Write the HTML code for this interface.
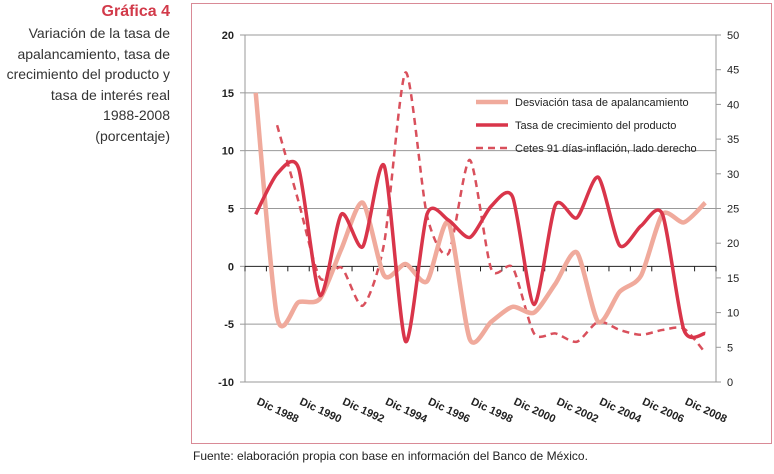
<!DOCTYPE html>
<html><head><meta charset="utf-8"><style>
body{margin:0;width:774px;height:474px;background:#fff;font-family:"Liberation Sans",sans-serif;overflow:hidden;position:relative}
#side{position:absolute;right:604px;top:3px;text-align:right;color:#333;font-size:14px;line-height:20.5px;width:190px}
#side b{color:#d23a4a;font-size:16px;display:block;line-height:18px;margin-bottom:2px}
#src{position:absolute;left:193px;top:449px;font-size:12px;color:#222}
svg{position:absolute;left:0;top:0}
</style></head><body>
<div id="side"><b>Gráfica 4</b>Variación de la tasa de apalancamiento, tasa de crecimiento del producto y tasa de interés real<br>1988-2008<br>(porcentaje)</div>
<svg id="c" width="774" height="474"></svg>
<div id="src">Fuente: elaboración propia con base en información del Banco de México.</div>
<script>
const years=[1987,1988,1989,1990,1991,1992,1993,1994,1995,1996,1997,1998,1999,2000,2001,2002,2003,2004,2005,2006,2007,2008];
const xLabels=["Dic 1988","Dic 1990","Dic 1992","Dic 1994","Dic 1996","Dic 1998","Dic 2000","Dic 2002","Dic 2004","Dic 2006","Dic 2008"];
const leftTicks=[-10,-5,0,5,10,15,20];
const rightTicks=[0,5,10,15,20,25,30,35,40,45,50];
const desviacion=[15,-4.4,-3.1,-2.8,1.5,5.5,-0.8,0.2,-1.3,3.8,-6.3,-4.8,-3.5,-4.0,-1.5,1.2,-4.8,-2.2,-0.8,4.5,3.8,5.5];
const crecimiento=[4.5,8.0,8.5,-2.5,4.5,1.7,8.7,-6.5,4.5,4.0,2.5,5.2,6.0,-3.3,5.3,4.2,7.7,1.8,3.5,4.5,-5.5,-5.8];
const cetes=[null,37,26,15,16.5,11,20,44.6,24,18.5,32,16.3,16.5,7,7,5.8,8.7,7.5,6.8,7.5,7.7,4.2];
const L=245,R=716,T=35,B=382;
const step=(R-L)/years.length;
const x=i=>L+step*(i+0.5);
const yL=v=>T+(20-v)/30*(B-T);
const yR=v=>T+(50-v)/50*(B-T);
const svg=document.getElementById('c');
const NS='http://www.w3.org/2000/svg';
function mk(t,a,p){const e=document.createElementNS(NS,t);for(const k in a)e.setAttribute(k,a[k]);(p||svg).appendChild(e);return e;}
let e=mk('rect',{x:191.5,y:3.5,width:580,height:440,fill:'none',stroke:'#d98a96','stroke-width':1});

leftTicks.forEach(v=>{
  if(v!==0){const g=mk('line',{x1:L,x2:R,y1:yL(v),y2:yL(v),stroke:'#999','stroke-width':1});
  }
  mk('line',{x1:L-5,x2:L,y1:yL(v),y2:yL(v),stroke:'#999'});
  const t=mk('text',{x:L-11,y:yL(v)+4,'text-anchor':'end','font-size':11,fill:'#222','font-weight':'bold'});t.textContent=v;
  
});
rightTicks.forEach(v=>{
  mk('line',{x1:R,x2:R+5,y1:yR(v),y2:yR(v),stroke:'#999'});
  const t=mk('text',{x:R+11,y:yR(v)+4,'font-size':11,fill:'#222'});t.textContent=v;
  
});
e=mk('line',{x1:L,x2:L,y1:T,y2:B,stroke:'#999'});
e=mk('line',{x1:R,x2:R,y1:T,y2:B,stroke:'#999'});
e=mk('line',{x1:L,x2:R,y1:yL(0),y2:yL(0),stroke:'#222','stroke-width':1});
for(let i=0;i<=years.length;i++)mk('line',{x1:L+step*i,x2:L+step*i,y1:yL(0),y2:yL(0)+5,stroke:'#222'});
xLabels.forEach((s,k)=>{const i=1+2*k;const t=mk('text',{x:0,y:0,'font-size':11,fill:'#222','font-weight':'bold',transform:`translate(${x(i)-21},${B+22}) rotate(25)`});t.textContent=s;
  });
function path(data,fy){const pts=[];data.forEach((v,i)=>{if(v!==null)pts.push([x(i),fy(v)]);});
  let d=`M${pts[0][0]},${pts[0][1]}`;
  for(let i=0;i<pts.length-1;i++){const p0=pts[i-1]||pts[i],p1=pts[i],p2=pts[i+1],p3=pts[i+2]||p2;
    const c1=[p1[0]+(p2[0]-p0[0])/8,p1[1]+(p2[1]-p0[1])/8],c2=[p2[0]-(p3[0]-p1[0])/8,p2[1]-(p3[1]-p1[1])/8];
    d+=`C${c1[0]},${c1[1]} ${c2[0]},${c2[1]} ${p2[0]},${p2[1]}`;}
  return d;}
e=mk('path',{d:path(cetes,yR),fill:'none',stroke:'#d9505c','stroke-width':2.5,'stroke-dasharray':'7,5'});
e=mk('path',{d:path(desviacion,yL),fill:'none',stroke:'#f0aa9c','stroke-width':4.5});
e=mk('path',{d:path(crecimiento,yL),fill:'none',stroke:'#d9354a','stroke-width':3.5});
const leg=[["Desviación  tasa de apalancamiento",'#f0aa9c',4.5,''],["Tasa de crecimiento del producto",'#d9354a',3.5,''],["Cetes 91 días-inflación, lado derecho",'#d9505c',2.5,'7,5']];
leg.forEach((l,k)=>{const y=102+k*23;
  const g=mk('line',{x1:476,x2:508,y1:y,y2:y,stroke:l[1],'stroke-width':l[2],'stroke-dasharray':l[3]});
  
  const t=mk('text',{x:515,y:y+4,'font-size':11,fill:'#222'});t.textContent=l[0];
  });
</script>
</body></html>
